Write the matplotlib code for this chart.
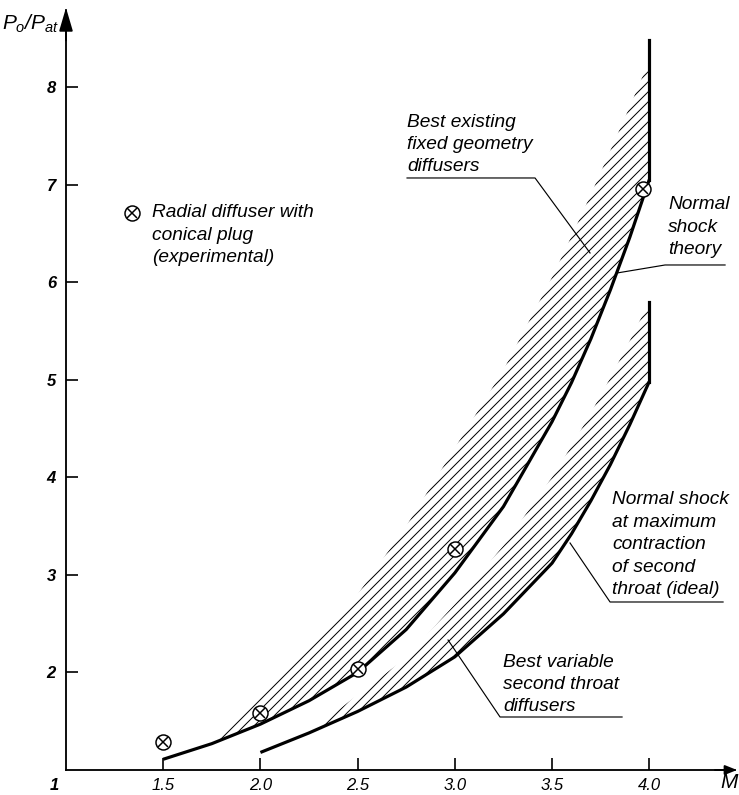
import numpy as np
import matplotlib
matplotlib.use("Agg")
import matplotlib.pyplot as plt

plt.rcParams["font.family"] = ["Liberation Sans", "DejaVu Sans"]
plt.rcParams["font.style"] = "italic"
plt.rcParams["mathtext.fontset"] = "custom"
plt.rcParams["mathtext.it"] = "Liberation Sans:italic"
plt.rcParams["mathtext.rm"] = "Liberation Sans:italic"
plt.rcParams["hatch.linewidth"] = 0.6

# Normal shock theory and band of best existing fixed geometry diffusers
shock_M = [1.5, 1.75, 2.0, 2.25, 2.5, 2.75, 3.0, 3.25, 3.5, 3.6, 3.7, 3.8, 3.9, 4.0]
shock_p = [1.11, 1.27, 1.47, 1.71, 2.00, 2.44, 3.02, 3.70, 4.57, 4.97, 5.42, 5.92, 6.46, 7.05]
fixed_top = [np.nan, 1.27, 1.77, 2.25, 2.80, 3.50, 4.30, 5.10, 6.05, 6.47, 6.90, 7.35, 7.80, 8.27]
shock_end = 8.48

# Normal shock at maximum contraction of second throat and band of
# best variable second throat diffusers
ideal_M = [2.0, 2.25, 2.5, 2.75, 3.0, 3.25, 3.5, 3.6, 3.7, 3.8, 3.9, 4.0]
ideal_p = [1.18, 1.38, 1.60, 1.85, 2.16, 2.60, 3.12, 3.42, 3.76, 4.13, 4.54, 4.98]
variable_top = [np.nan, 1.38, 1.77, 2.15, 2.70, 3.30, 4.00, 4.32, 4.66, 5.02, 5.40, 5.80]
ideal_end = 5.80

# Radial diffuser with conical plug (experimental)
exp_M = [1.5, 2.0, 2.5, 3.0, 3.97]
exp_p = [1.29, 1.58, 2.03, 3.27, 6.95]

x_ticks = [1.5, 2.0, 2.5, 3.0, 3.5, 4.0]
x_tick_labels = ["1.5", "2.0", "2.5", "3.0", "3.5", "4.0"]
y_ticks = [2, 3, 4, 5, 6, 7, 8]
y_tick_labels = ["2", "3", "4", "5", "6", "7", "8"]

W, H, DPI = 739, 795, 120
fig = plt.figure(figsize=(W / DPI, H / DPI), dpi=DPI)
ax = fig.add_axes([66 / W, 25 / H, (735 - 66) / W, (770 - 10) / H])
ax.set_xlim(1.0, 4.441)
ax.set_ylim(1.0, 8.789)

for s in ("top", "right"):
    ax.spines[s].set_visible(False)
for s in ("left", "bottom"):
    ax.spines[s].set_linewidth(1.1)

ax.set_xticks(x_ticks)
ax.set_xticklabels(x_tick_labels)
ax.set_yticks(y_ticks)
ax.set_yticklabels(y_tick_labels, fontweight="bold")
ax.tick_params(axis="both", direction="in", length=7, width=1.0, labelsize=10)
ax.tick_params(axis="y", pad=6)
ax.tick_params(axis="x", pad=5)

# axis arrows
ax.annotate("", xy=(0, 1.003), xycoords="axes fraction", xytext=(0, 0.96),
            arrowprops=dict(arrowstyle="-|>,head_length=1.7,head_width=0.5",
                            mutation_scale=7, color="black", lw=1.1,
                            shrinkA=0, shrinkB=0))
ax.annotate("", xy=(1.003, 0), xycoords="axes fraction", xytext=(0.97, 0),
            arrowprops=dict(arrowstyle="-|>,head_length=1.0,head_width=0.4",
                            mutation_scale=6, color="black", lw=1.1,
                            shrinkA=0, shrinkB=0))

# hatched bands
ax.fill_between(shock_M, shock_p, fixed_top, facecolor="none",
                edgecolor="black", linewidth=0, hatch="////")
ax.fill_between(ideal_M, ideal_p, variable_top, facecolor="none",
                edgecolor="black", linewidth=0, hatch="////")

# boundary curves
ax.plot(shock_M, shock_p, color="black", lw=1.9, solid_capstyle="butt")
ax.plot([shock_M[-1], shock_M[-1]], [shock_p[-1], shock_end], color="black", lw=1.9)
ax.plot(ideal_M, ideal_p, color="black", lw=1.9, solid_capstyle="butt")
ax.plot([ideal_M[-1], ideal_M[-1]], [ideal_p[-1], ideal_end], color="black", lw=1.9)


def otimes(xs, ys, **kw):
    ax.plot(xs, ys, ls="none", marker="o", markersize=9, mfc="white",
            mec="black", mew=0.9, zorder=5, **kw)
    ax.plot(xs, ys, ls="none", marker="x", markersize=5.8, color="black",
            mew=0.9, zorder=6, **kw)


otimes(exp_M, exp_p)


def px(x, y):
    return 1 + (x - 66) / 194.4, 1 + (770 - y) / 97.57


def text_block(x, ys, lines, size=11.5):
    for y, line in zip(ys, lines):
        ax.text(*px(x, y), line, fontsize=size, ha="left", va="center")


def leader(points):
    xs, ys = zip(*[px(x, y) for x, y in points])
    ax.plot(xs, ys, color="black", lw=0.7)


# legend entry
otimes([px(132, 213)[0]], [px(132, 213)[1]], clip_on=False)
text_block(152, [213, 236, 258], ["Radial diffuser with", "conical plug", "(experimental)"])

text_block(407, [123, 145, 167], ["Best existing", "fixed geometry", "diffusers"])
leader([(407, 178), (535, 178), (590, 253)])

text_block(668, [205, 228, 250], ["Normal", "shock", "theory"])
leader([(725, 265), (665, 265), (617, 273)])

text_block(612, [500, 523, 545, 568, 590],
           ["Normal shock", "at maximum", "contraction", "of second", "throat (ideal)"])
leader([(723, 602), (610, 602), (570, 543)])

text_block(503, [663, 685, 707], ["Best variable", "second throat", "diffusers"])
leader([(622, 717), (500, 717), (448, 640)])

# axis titles and origin label
fig.text(31 / W, 1 - 24 / H, r"$P_o/P_{at}$", fontsize=12.5, ha="center", va="center")
fig.text(729 / W, 1 - 783 / H, "M", fontsize=12.5, ha="center", va="center")
fig.text(54 / W, 1 - 785 / H, "1", fontsize=10, fontweight="bold",
         ha="center", va="center")

fig.savefig("out.png", dpi=DPI, facecolor="white")
